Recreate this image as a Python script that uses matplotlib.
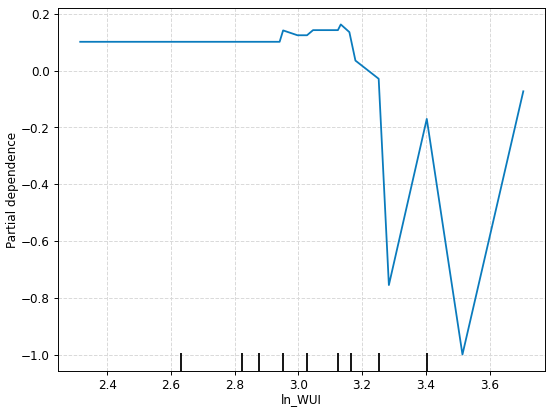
import numpy as np
import matplotlib
matplotlib.use("Agg")
import matplotlib.pyplot as plt

# partial dependence curve for ln_WUI
grid_x = [2.315, 2.941, 2.952, 2.997, 3.027, 3.046, 3.124, 3.133, 3.160,
          3.179, 3.252, 3.284, 3.403, 3.515, 3.706]
pd_y = [0.101, 0.101, 0.141, 0.124, 0.124, 0.142, 0.142, 0.162, 0.135,
        0.035, -0.029, -0.754, -0.170, -0.998, -0.073]

# deciles of the feature (rug marks)
deciles = [2.632, 2.824, 2.875, 2.953, 3.026, 3.124, 3.166, 3.253, 3.404]

fig = plt.figure(figsize=(6.4, 4.78), dpi=86)
ax = fig.add_subplot(111)
ax.plot(grid_x, pd_y, color='#0a7bbd', lw=1.5)
ax.vlines(deciles, 0, 0.05, transform=ax.get_xaxis_transform(), color='k', lw=1.5)

ax.grid(True, linestyle='--', color='#d9d9d9', lw=0.8)
ax.set_axisbelow(True)
ax.set_ylim(-1.056, 0.22)
ax.set_xlabel("ln_WUI")
ax.set_ylabel("Partial dependence")
ax.xaxis.set_label_coords(0.5, -0.06)
ax.yaxis.set_label_coords(-0.081, 0.5)

fig.subplots_adjust(left=0.1055, right=0.991, top=0.9805, bottom=0.0973)
plt.savefig("out.png")
